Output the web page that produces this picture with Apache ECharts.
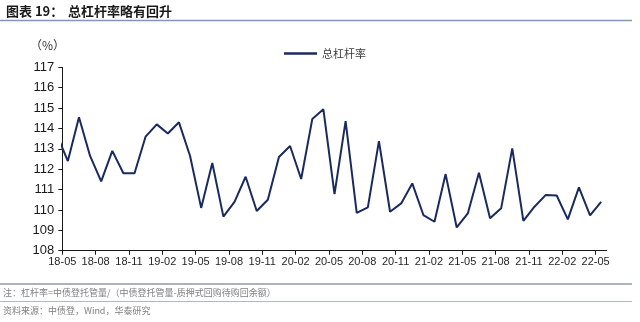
<!DOCTYPE html>
<html><head><meta charset="utf-8">
<script src="https://cdn.jsdelivr.net/npm/echarts@6/dist/echarts.min.js"></script>
<style>html,body{margin:0;padding:0;background:#fff}#c{width:640px;height:322px}</style>
</head><body><div id="c"></div>
<script>
// months (first entry precedes the axis start and is clipped by the plot area)
var months = ['18-04','18-05','18-06','18-07','18-08','18-09','18-10','18-11','18-12',
  '19-01','19-02','19-03','19-04','19-05','19-06','19-07','19-08','19-09','19-10','19-11','19-12',
  '20-01','20-02','20-03','20-04','20-05','20-06','20-07','20-08','20-09','20-10','20-11','20-12',
  '21-01','21-02','21-03','21-04','21-05','21-06','21-07','21-08','21-09','21-10','21-11','21-12',
  '22-01','22-02','22-03','22-04','22-05'];
var leverage = [113.7,112.4,114.55,112.65,111.4,112.9,111.8,111.8,113.6,
  114.2,113.75,114.3,112.65,110.1,112.3,109.67,110.4,111.63,109.95,110.5,112.6,
  113.14,111.52,114.46,114.94,110.78,114.36,109.86,110.13,113.38,109.91,110.32,111.3,
  109.75,109.42,111.76,109.14,109.83,111.83,109.59,110.08,113.02,109.46,110.16,110.73,
  110.71,109.54,111.11,109.73,110.4];
var yTicks = {min:108, max:117, interval:1};
var seriesName = '总杠杆率';

var chart = echarts.init(document.getElementById('c'), null, {renderer:'canvas'});
var data = leverage.map(function(v,i){ return [i - 0.5, v]; });
var cjk = '"Noto Sans CJK SC", sans-serif';
chart.setOption({
  animation:false,
  backgroundColor:'#fff',
  grid:{left:62.3, right:33.3, top:67.3, bottom:71.3, containLabel:false},
  legend:{
    data:[{name:seriesName, icon:'rect'}], left:279, top:43, itemWidth:33, itemHeight:2.5, itemGap:4,
    textStyle:{fontFamily:cjk, fontSize:11, color:'#404040'}
  },
  xAxis:{
    type:'value', min:0, max:49, interval:3,
    axisLine:{show:true, lineStyle:{color:'#1a1a1a', width:1}},
    axisTick:{show:true, length:4, inside:false, lineStyle:{color:'#1a1a1a'}},
    splitLine:{show:false},
    axisLabel:{showMaxLabel:false, fontFamily:'Arial, "Liberation Sans", sans-serif', fontSize:11, color:'#262626', margin:6,
      formatter:function(v){ var k = Math.round(v)+1; return months[k] || ''; }}
  },
  yAxis:{
    type:'value', min:yTicks.min, max:yTicks.max, interval:yTicks.interval,
    axisLine:{show:true, lineStyle:{color:'#1a1a1a', width:1}},
    axisTick:{show:true, length:4, lineStyle:{color:'#1a1a1a'}},
    splitLine:{show:false},
    axisLabel:{fontFamily:'Arial, "Liberation Sans", sans-serif', fontSize:13, color:'#1a1a1a', margin:8}
  },
  series:[{
    name:seriesName, type:'line', data:data, symbol:'none', clip:true,
    lineStyle:{color:'#1a2a5e', width:2}, itemStyle:{color:'#1a2a5e'}
  }],
  graphic:[
    {type:'text', left:6, top:5, style:{text:'图表 19：', font:'bold 13px '+cjk, fill:'#1a1a1a'}},
    {type:'text', left:68, top:5, style:{text:'总杠杆率略有回升', font:'bold 13px '+cjk, fill:'#1a1a1a'}},
    {type:'line', shape:{x1:0, y1:20.5, x2:632, y2:20.5}, style:{stroke:'#8597b3', lineWidth:1.5}},
    {type:'text', left:30, top:39, style:{text:'（%）', font:'12px '+cjk, fill:'#333'}},
    {type:'line', shape:{x1:0, y1:284, x2:632, y2:284}, style:{stroke:'#5a6478', lineWidth:1.2}},
    {type:'text', left:3, top:288, style:{text:'注：杠杆率=中债登托管量/（中债登托管量-质押式回购待购回余额）', font:'9px '+cjk, fill:'#808080'}},
    {type:'line', shape:{x1:0, y1:301.5, x2:632, y2:301.5}, style:{stroke:'#9aa6bb', lineWidth:0.8}},
    {type:'text', left:3, top:306, style:{text:'资料来源：中债登，Wind，华泰研究', font:'9px '+cjk, fill:'#808080'}}
  ]
});
</script></body></html>
